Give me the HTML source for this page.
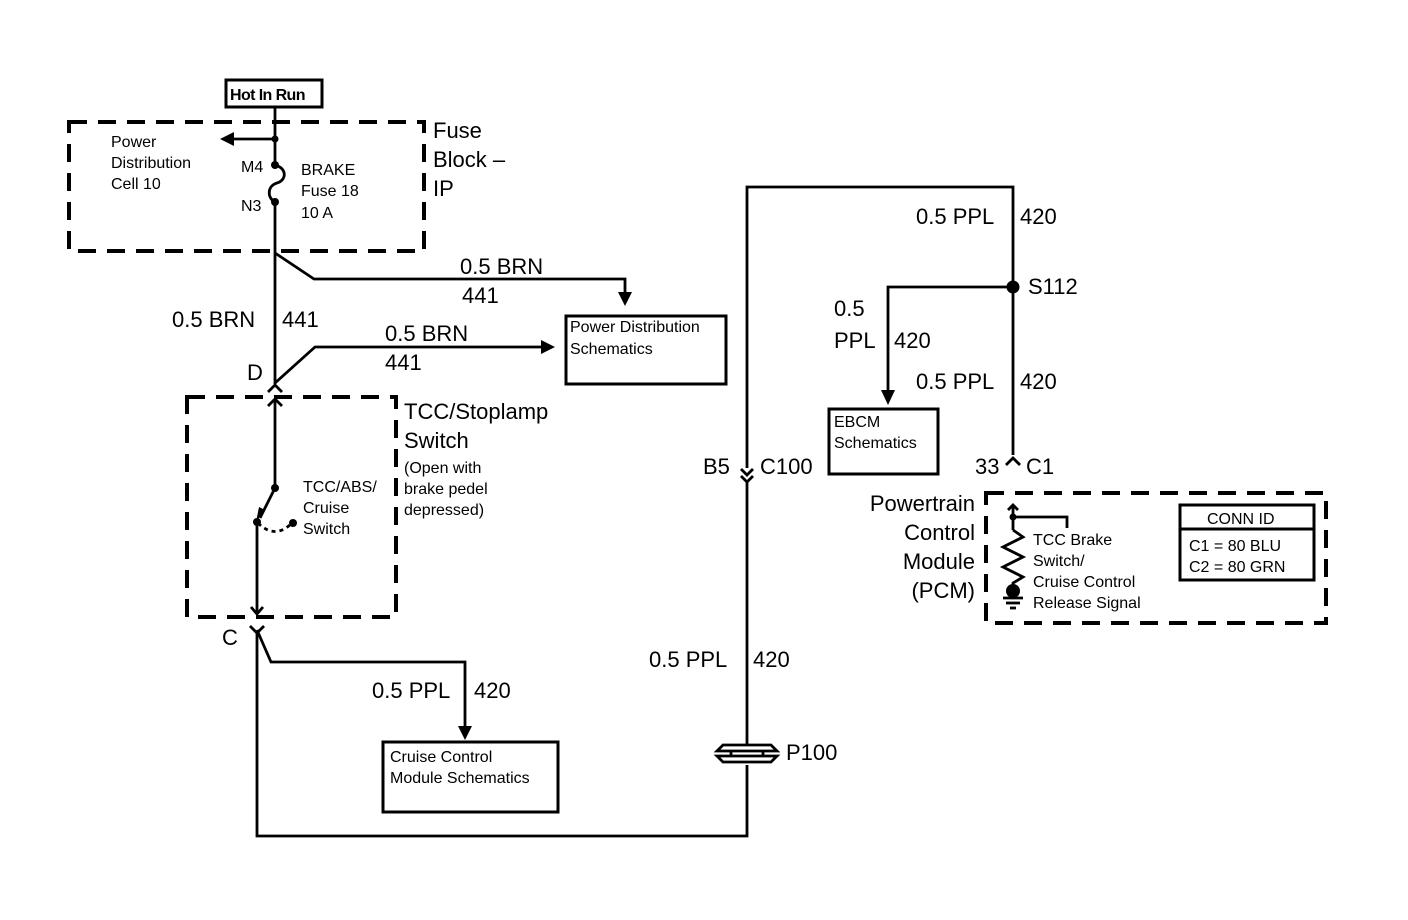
<!DOCTYPE html>
<html><head><style>html,body{margin:0;padding:0;background:#fff}svg{display:block}</style></head><body>
<svg width="1408" height="920" viewBox="0 0 1408 920" xmlns="http://www.w3.org/2000/svg" font-family="Liberation Sans, Arial, sans-serif" fill="#000">
<g fill="none" stroke="#000" stroke-width="3">
<rect x="226" y="80" width="96" height="27"/>
<rect x="566" y="316" width="160" height="68"/>
<rect x="829" y="409" width="109" height="65"/>
<rect x="383" y="742" width="175" height="70"/>
<rect x="1180" y="505" width="134" height="75"/>
<line x1="1180" y1="529" x2="1314" y2="529"/>
</g>
<g fill="none" stroke="#000" stroke-width="4" stroke-dasharray="18,11">
<rect x="69" y="122" width="355" height="129"/>
<rect x="187" y="397" width="209" height="220"/>
<rect x="986" y="493" width="340" height="130"/>
</g>
<g fill="none" stroke="#000" stroke-width="2.8">
<line x1="275" y1="107" x2="275" y2="165"/>
<line x1="275" y1="139" x2="232" y2="139"/>
<path d="M275 165 C287 168 287 180 277 183 C267 186 267 198 275 202"/>
<line x1="275" y1="202" x2="275" y2="384"/>
<polyline points="275,253 314,279 625,279 625,296"/>
<polyline points="275,383 315,347 545,347"/>
<polyline points="268,392 275,385 282,392"/>
<polyline points="268,406 275,399 282,406"/>
<line x1="275" y1="399" x2="275" y2="488"/>
<line x1="275" y1="488" x2="260" y2="518"/>
<path d="M258 523 Q275 540 292 523" stroke-dasharray="4,4"/>
<line x1="257" y1="522" x2="257" y2="613"/>
<polyline points="251,607 257,614 263,607"/>
<polyline points="250,626 257,633 264,626"/>
<polyline points="257,630 271,662 465,662 465,728"/>
<polyline points="257,633 257,836 747,836 747,765"/>
<line x1="747" y1="745" x2="747" y2="481"/>
<polyline points="741,469 747,475 753,469"/>
<polyline points="741,476 747,482 753,476"/>
<polyline points="747,468 747,187 1013,187 1013,455"/>
<polyline points="1013,287 888,287 888,393"/>
<polyline points="1006,465 1013,458 1020,465"/>
<line x1="1013" y1="505" x2="1013" y2="530"/>
<polyline points="1008,510 1013,505 1018,510"/>
<polyline points="1013,517 1067,517 1067,528"/>
<polyline points="1013,530 1023,537 1003,547 1023,557 1003,567 1023,577 1013,583 1013,590"/>
<line x1="1003" y1="598" x2="1023" y2="598"/>
<line x1="1006" y1="603" x2="1020" y2="603"/>
<line x1="1010" y1="608" x2="1016" y2="608"/>
<path d="M723 745 L771 745 L777 751 L717 751 Z M723 762 L771 762 L777 756 L717 756 Z"/>
<line x1="731" y1="751" x2="731" y2="756"/><line x1="763" y1="751" x2="763" y2="756"/>
</g>
<g>
<polygon points="220,139 234,132 234,146"/>
<polygon points="618,292 632,292 625,306"/>
<polygon points="541,340 541,354 555,347"/>
<polygon points="881,390 895,390 888,405"/>
<polygon points="458,726 472,726 465,740"/>
<polygon points="256,522 265,510 259,507"/>
<circle cx="275" cy="139" r="3.5"/><circle cx="275" cy="165" r="4"/><circle cx="275" cy="202" r="4"/>
<circle cx="275" cy="488" r="4"/><circle cx="257" cy="522" r="4"/><circle cx="293" cy="523" r="4"/>
<circle cx="1013" cy="287" r="6.5"/><circle cx="1013" cy="517" r="3.5"/><circle cx="1013" cy="591" r="7"/>
</g>
<g font-size="16">
<text x="230" y="100" font-weight="bold" font-size="16" letter-spacing="-0.6">Hot In Run</text>
<text x="111" y="147">Power</text><text x="111" y="168">Distribution</text><text x="111" y="189">Cell 10</text>
<text x="241" y="172">M4</text><text x="241" y="211">N3</text>
<text x="301" y="175">BRAKE</text><text x="301" y="196">Fuse 18</text><text x="301" y="218">10 A</text>
<text x="570" y="332">Power Distribution</text><text x="570" y="354">Schematics</text>
<text x="303" y="492">TCC/ABS/</text><text x="303" y="513">Cruise</text><text x="303" y="534">Switch</text>
<text x="404" y="473">(Open with</text><text x="404" y="494">brake pedel</text><text x="404" y="515">depressed)</text>
<text x="834" y="427">EBCM</text><text x="834" y="448">Schematics</text>
<text x="390" y="762">Cruise Control</text><text x="390" y="783">Module Schematics</text>
<text x="1033" y="545">TCC Brake</text><text x="1033" y="566">Switch/</text><text x="1033" y="587">Cruise Control</text><text x="1033" y="608">Release Signal</text>
<text x="1207" y="524">CONN ID</text><text x="1189" y="551">C1 = 80 BLU</text><text x="1189" y="572">C2 = 80 GRN</text>
</g>
<g font-size="22">
<text x="433" y="138">Fuse</text><text x="433" y="167">Block –</text><text x="433" y="196">IP</text>
<text x="460" y="274">0.5 BRN</text><text x="462" y="303">441</text>
<text x="172" y="327">0.5 BRN</text><text x="282" y="327">441</text>
<text x="385" y="341">0.5 BRN</text><text x="385" y="370">441</text>
<text x="247" y="380">D</text>
<text x="404" y="419">TCC/Stoplamp</text><text x="404" y="448">Switch</text>
<text x="222" y="645">C</text>
<text x="372" y="698">0.5 PPL</text><text x="474" y="698">420</text>
<text x="649" y="667">0.5 PPL</text><text x="753" y="667">420</text>
<text x="786" y="760">P100</text>
<text x="703" y="474">B5</text><text x="760" y="474">C100</text>
<text x="916" y="224">0.5 PPL</text><text x="1020" y="224">420</text>
<text x="1028" y="294">S112</text>
<text x="834" y="316">0.5</text><text x="834" y="348">PPL</text><text x="894" y="348">420</text>
<text x="916" y="389">0.5 PPL</text><text x="1020" y="389">420</text>
<text x="975" y="474">33</text><text x="1026" y="474">C1</text>
<g text-anchor="end"><text x="975" y="511">Powertrain</text><text x="975" y="540">Control</text><text x="975" y="569">Module</text><text x="975" y="598">(PCM)</text></g>
</g>
</svg>
</body></html>
